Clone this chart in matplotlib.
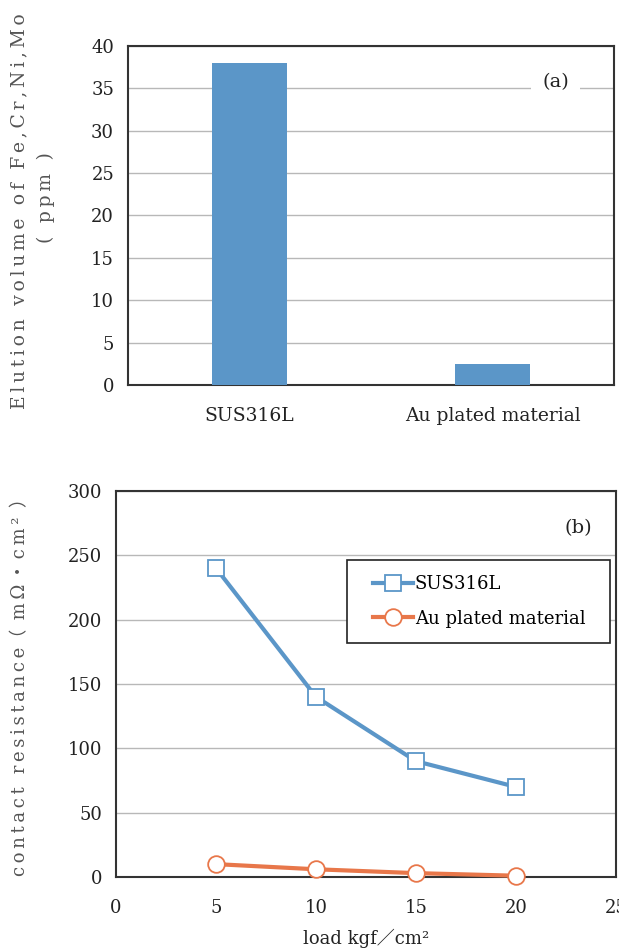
import matplotlib
matplotlib.use("Agg")
import matplotlib.pyplot as plt
from matplotlib.patches import Rectangle

plt.rcParams['font.family'] = ['DejaVu Serif', 'Noto Sans CJK JP']

# Data
bar_categories = ["SUS316L", "Au plated material"]
bar_values = [38, 2.5]
top_yticks = [0, 5, 10, 15, 20, 25, 30, 35, 40]

load = [5, 10, 15, 20]
sus_resistance = [240, 140, 90, 70]
au_resistance = [10, 6, 3, 1]
bottom_xticks = [0, 5, 10, 15, 20, 25]
bottom_yticks = [0, 50, 100, 150, 200, 250, 300]

blue = "#5b96c8"
orange = "#e8774a"
grid_c = "#b8b8b8"
text_c = "#222222"
label_c = "#555555"

TS = "\u2009"
def spaced(s):
    return TS.join(list(s))

fig = plt.figure(figsize=(6.19, 9.49), dpi=100)

# Top chart
ax1 = fig.add_axes([128/619, 1-385/949, 486/619, (385-46)/949])
x = range(len(bar_categories))
ax1.bar(x, bar_values, width=0.31, color=blue, zorder=3)
ax1.set_xlim(-0.5, 1.5)
ax1.set_ylim(0, 40)
ax1.set_yticks(top_yticks)
ax1.set_xticks(list(x))
ax1.set_xticklabels(bar_categories)
ax1.yaxis.grid(True, color=grid_c, linewidth=1.0, zorder=0)
ax1.tick_params(axis='both', length=0, labelsize=13, colors=text_c, pad=10)
ax1.tick_params(axis='x', pad=16, labelsize=13.5)
for sp in ax1.spines.values():
    sp.set_color("#333333")
    sp.set_linewidth(1.5)
ax1.text(0.88, 0.895, "(a)", transform=ax1.transAxes, fontsize=14, color=text_c,
         ha='center', va='center', zorder=5,
         bbox=dict(facecolor='white', edgecolor='none', pad=8))
fig.text(19/619, 1-211/949, spaced("Elution volume of Fe,Cr,Ni,Mo"), rotation=90,
         ha='center', va='center', fontsize=13.5, color=label_c)
fig.text(46/619, 1-198/949, spaced("( ppm )"), rotation=90,
         ha='center', va='center', fontsize=13.5, color=label_c)

# Bottom chart
ax2 = fig.add_axes([116/619, 1-877/949, 500/619, (877-491)/949])
ax2.plot(load, sus_resistance, color=blue, linewidth=3, marker='s', markersize=12,
         markerfacecolor='white', markeredgecolor=blue, markeredgewidth=1.3,
         label="SUS316L", zorder=4, clip_on=False)
ax2.plot(load, au_resistance, color=orange, linewidth=3, marker='o', markersize=12,
         markerfacecolor='white', markeredgecolor=orange, markeredgewidth=1.3,
         label="Au plated material", zorder=4, clip_on=False)
ax2.set_xlim(0, 25)
ax2.set_ylim(0, 300)
ax2.set_xticks(bottom_xticks)
ax2.set_yticks(bottom_yticks)
ax2.yaxis.grid(True, color=grid_c, linewidth=1.0, zorder=0)
ax2.tick_params(axis='both', length=0, labelsize=13, colors=text_c, pad=10)
ax2.tick_params(axis='x', pad=16)
for sp in ax2.spines.values():
    sp.set_color("#333333")
    sp.set_linewidth(1.5)
ax2.set_xlabel("load kgf／cm²", fontsize=13, color=text_c, labelpad=8)
ax2.text(0.925, 0.905, "(b)", transform=ax2.transAxes, fontsize=14, color=text_c,
         ha='center', va='center', zorder=5,
         bbox=dict(facecolor='white', edgecolor='none', pad=4))

# legend frame
ax2.add_patch(Rectangle(((347-116)/500, (877-643)/386), 263/500, 83/386,
                        transform=ax2.transAxes, facecolor='white',
                        edgecolor='#222222', linewidth=1.2, zorder=5))
leg = ax2.legend(loc='upper left', bbox_to_anchor=((358-116)/500, (877-560)/386),
                 borderaxespad=0, frameon=False,
                 fontsize=13, handlelength=2.2, handletextpad=0.1,
                 borderpad=0.85, labelspacing=0.9)
leg.set_zorder(6)

fig.text(20/619, 1-683/949, spaced("contact resistance") + "（" + spaced(" mΩ・cm² ") + "）",
         rotation=90, ha='center', va='center', fontsize=13, color=label_c)

fig.savefig("out.png", dpi=100)
